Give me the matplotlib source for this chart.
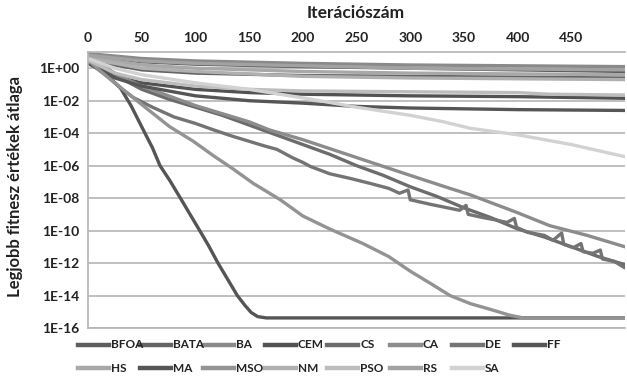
import numpy as np
import matplotlib
matplotlib.use("Agg")
import matplotlib.pyplot as plt
from matplotlib.lines import Line2D

plt.rcParams['font.family'] = ['Lato', 'DejaVu Sans']

# iterations and log10 of the mean best fitness
names = ["BFOA", "BATA", "BA", "CEM", "CS", "CA", "DE", "FF",
         "HS", "MA", "MSO", "NM", "PSO", "RS", "SA"]
colors = ["#5e5e5e", "#646464", "#8a8a8a", "#525252", "#6c6c6c", "#8c8c8c", "#747474", "#565656",
          "#a8a8a8", "#555555", "#939393", "#b0b0b0", "#bdbdbd", "#a2a2a2", "#d2d2d2"]

bfoa_x = [0, 50, 100, 200, 300, 400, 500]
bfoa_y = [0.8, 0.4, 0.25, 0.1, 0.0, -0.1, -0.2]
bata_x = [0, 50, 100, 200, 300, 400, 500]
bata_y = [0.5, -0.1, -0.3, -0.45, -0.5, -0.55, -0.6]
ba_x = [0, 50, 100, 200, 300, 400, 500]
ba_y = [0.9, 0.6, 0.45, 0.3, 0.2, 0.15, 0.1]
cem_x = [0, 25, 50, 100, 150, 200, 300, 400, 500]
cem_y = [0.4, -0.5, -0.9, -1.3, -1.5, -1.6, -1.7, -1.75, -1.85]
cs_x = [0, 15, 30, 50, 75, 100, 125, 150, 175, 200, 225, 250, 275, 300, 325, 350, 375, 400, 425, 450, 475, 500]
cs_y = [0.6, 0.0, -0.6, -1.3, -1.9, -2.4, -2.9, -3.5, -4.1, -4.7, -5.3, -6.0, -6.6, -7.3, -7.9, -8.6, -9.2, -9.9,
        -10.4, -11.0, -11.6, -12.1]
ca_x = [0, 15, 30, 50, 75, 100, 125, 150, 169, 200, 250, 300, 337, 356, 400, 430, 465, 500]
ca_y = [0.7, 0.1, -0.5, -1.1, -1.7, -2.3, -2.8, -3.3, -3.8, -4.4, -5.5, -6.6, -7.4, -7.8, -8.9, -9.7, -10.3, -11.0]
de_x = [0, 10, 20, 30, 42, 60, 80, 100, 117, 135, 150, 165, 176, 190, 200, 207, 225, 245, 263, 280, 290, 298,
        300, 320, 335, 346, 352, 354, 368, 380, 390, 397, 399, 409, 425, 433, 441, 443, 452, 459, 461, 470, 477,
        479, 490, 500]
de_y = [0.5, 0.0, -0.6, -1.2, -1.8, -2.4, -3.0, -3.4, -3.8, -4.2, -4.5, -4.8, -5.0, -5.5, -5.8, -6.05, -6.5, -6.8,
        -7.1, -7.4, -7.7, -7.5, -8.1, -8.4, -8.6, -8.75, -8.45, -9.0, -9.2, -9.35, -9.5, -9.25, -9.8, -10.1,
        -10.3, -10.6, -10.15, -10.85, -11.05, -10.8, -11.3, -11.4, -11.2, -11.75, -11.9, -12.3]
ff_x = [0, 25, 50, 100, 150, 200, 250, 300, 400, 500]
ff_y = [0.3, -0.6, -1.1, -1.7, -2.0, -2.15, -2.35, -2.45, -2.55, -2.6]
hs_x = [0, 50, 100, 200, 300, 400, 500]
hs_y = [0.7, 0.2, 0.0, -0.2, -0.3, -0.35, -0.4]
ma_x = [0, 8, 20, 30, 40, 53, 60, 67, 76, 86, 95, 104, 112, 121, 130, 139, 146, 152, 158, 166, 500]
ma_y = [0.5, 0.0, -0.6, -1.2, -2.3, -4.0, -4.9, -6.0, -6.9, -8.0, -9.0, -10.0, -10.9, -12.0, -13.0, -14.0,
        -14.6, -15.05, -15.3, -15.38, -15.38]
mso_x = [0, 12, 23, 40, 55, 76, 98, 117, 135, 154, 179, 200, 225, 256, 280, 300, 320, 337, 356, 377, 392, 405, 500]
mso_y = [0.5, -0.2, -0.8, -1.7, -2.5, -3.6, -4.5, -5.4, -6.2, -7.1, -8.1, -9.1, -9.9, -10.8, -11.6, -12.5,
         -13.3, -14.0, -14.5, -14.9, -15.2, -15.38, -15.38]
nm_x = [0, 50, 100, 200, 300, 400, 500]
nm_y = [0.6, 0.0, -0.2, -0.5, -0.6, -0.65, -0.7]
pso_x = [0, 25, 50, 100, 150, 200, 300, 400, 430, 500]
pso_y = [0.5, -0.3, -0.7, -1.1, -1.3, -1.4, -1.45, -1.5, -1.6, -1.65]
rs_x = [0, 50, 100, 200, 300, 400, 500]
rs_y = [0.8, 0.45, 0.3, 0.15, 0.0, -0.05, -0.1]
sa_x = [0, 25, 50, 100, 150, 207, 250, 300, 331, 356, 400, 450, 500]
sa_y = [0.6, 0.0, -0.4, -0.9, -1.3, -1.9, -2.4, -2.9, -3.3, -3.7, -4.1, -4.7, -5.45]

series_x = [bfoa_x, bata_x, ba_x, cem_x, cs_x, ca_x, de_x, ff_x, hs_x, ma_x, mso_x, nm_x, pso_x, rs_x, sa_x]
series_y = [bfoa_y, bata_y, ba_y, cem_y, cs_y, ca_y, de_y, ff_y, hs_y, ma_y, mso_y, nm_y, pso_y, rs_y, sa_y]

fig = plt.figure(figsize=(6.27, 3.76), dpi=100)
ax = fig.add_axes([0.1404, 0.1277, 0.8564, 0.734])

for xs, ys, c in zip(series_x, series_y, colors):
    ax.plot(xs, 10.0 ** np.array(ys), color=c, lw=2.4, solid_capstyle='round', solid_joinstyle='round')

ax.set_yscale('log')
ax.set_ylim(1e-16, 1e1)
ax.set_xlim(0, 500)
yt = [10.0 ** k for k in range(0, -17, -2)]
ax.set_yticks(yt)
ax.set_yticklabels(["1E+00", "1E-02", "1E-04", "1E-06", "1E-08", "1E-10", "1E-12", "1E-14", "1E-16"])
ax.yaxis.set_minor_locator(matplotlib.ticker.NullLocator())
ax.set_xticks(range(0, 500, 50))
ax.xaxis.tick_top()
ax.tick_params(axis='both', length=0, labelsize=10, colors='#222222', pad=6)
for lab in ax.get_xticklabels() + ax.get_yticklabels():
    lab.set_fontweight('bold')
ax.grid(axis='y', color='#b4b4b4', lw=1.2)
for s in ['top', 'left', 'bottom']:
    ax.spines[s].set_color('#b4b4b4')
    ax.spines[s].set_linewidth(1.2)
ax.spines['right'].set_visible(False)

fig.text(0.568, 0.965, "Iterációszám", ha='center', va='center', fontsize=12.5, fontweight='bold', color='#222222')
fig.text(0.024, 0.505, "Legjobb fitnesz értékek átlaga", ha='center', va='center', rotation=90,
         fontsize=12, fontweight='bold', color='#222222')

# legend: two rows, fixed column spacing like the original
for i, (n, c) in enumerate(zip(names, colors)):
    row, col = divmod(i, 8)
    x0 = (78 + col * 62.3) / 627
    y0 = 1 - (345 + row * 23) / 376
    fig.add_artist(Line2D([x0, x0 + 31 / 627], [y0, y0], color=c, lw=3.2, transform=fig.transFigure))
    fig.text(x0 + 33 / 627, y0, n, ha='left', va='center', fontsize=8.5, fontweight='bold', color='#222222')

fig.savefig("out.png", dpi=100)
